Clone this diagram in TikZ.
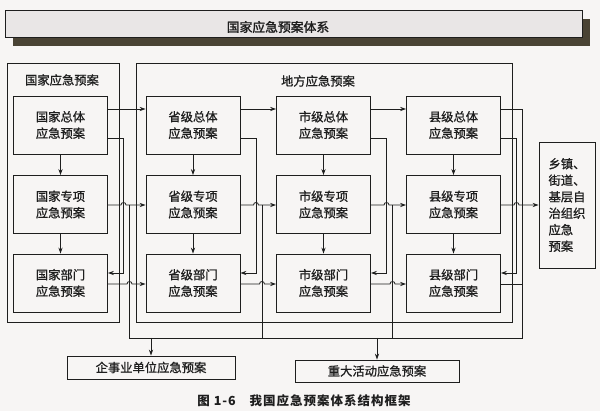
\documentclass[tikz,border=0pt]{standalone}
\usepackage{fontspec}
\setmainfont{Noto Sans CJK SC}[FakeBold=0.9]
\newfontfamily\bannerfont{Noto Sans CJK SC}[FakeBold=1.6]
\newfontfamily\capfont{Noto Sans CJK SC}[LetterSpace=8]
\usetikzlibrary{arrows.meta}
\definecolor{paper}{HTML}{F7F5F4}
\definecolor{bannerc}{HTML}{E9E6E6}
\definecolor{shadowc}{HTML}{4A4334}
\definecolor{inkc}{HTML}{1E1E1E}
\tikzset{
  ln/.style={draw=inkc, line width=0.8pt},
  arr/.style={ln, -{Stealth[length=6pt,width=4.2pt]}},
  box/.style={draw=inkc, line width=0.85pt, minimum width=94pt, minimum height=58pt,
    align=center, inner sep=0pt, font=\fontsize{12.3}{16.5}\selectfont, text=inkc},
  wide/.style={draw=inkc, line width=0.85pt, inner sep=0pt, font=\fontsize{12.3}{16}\selectfont, text=inkc},
  frame/.style={draw=inkc, line width=0.85pt, inner sep=0pt, anchor=north west},
  lbl/.style={font=\fontsize{12.3}{16}\selectfont, text=inkc, inner sep=0pt},
}
\begin{document}
\begin{tikzpicture}[x=1pt,y=-1pt]
\useasboundingbox[fill=paper] (0,0) rectangle (600,411);

% banner
\fill[shadowc] (13,19) rectangle (590,46);
\node[frame, fill=bannerc, minimum width=577pt, minimum height=27pt] (banner) at (5,10) {};
\node[lbl, font=\bannerfont\fontsize{12.8}{15}\selectfont] (bannertxt) at (278,27) {国家应急预案体系};

% containers
\node[frame, minimum width=112pt, minimum height=259pt] (gjframe) at (7,63) {};
\node[lbl] (gjlbl) at (62,80) {国家应急预案};
\node[frame, minimum width=376pt, minimum height=259pt] (dfframe) at (136,63) {};
\node[lbl] (dflbl) at (318,81) {地方应急预案};

% column boxes
\node[box] (gz) at (60.5,125) {国家总体\\应急预案};
\node[box] (gx) at (60.5,204.5) {国家专项\\应急预案};
\node[box] (gb) at (60.5,283) {国家部门\\应急预案};
\node[box] (sz) at (193,125) {省级总体\\应急预案};
\node[box] (sx) at (193,204.5) {省级专项\\应急预案};
\node[box] (sb) at (193,283) {省级部门\\应急预案};
\node[box] (cz) at (323.5,125) {市级总体\\应急预案};
\node[box] (cx) at (323.5,204.5) {市级专项\\应急预案};
\node[box] (cb) at (323.5,283) {市级部门\\应急预案};
\node[box] (xz) at (453.5,125) {县级总体\\应急预案};
\node[box] (xx) at (453.5,204.5) {县级专项\\应急预案};
\node[box] (xb) at (453.5,283) {县级部门\\应急预案};

\node[box, minimum width=56pt, minimum height=126pt, align=left] (xt) at (567,205)
  {乡镇、\\街道、\\基层自\\治组织\\应急\\预案};

\node[wide, minimum width=168pt, minimum height=23pt] (qy) at (151,367.5) {企事业单位应急预案};
\node[wide, minimum width=164pt, minimum height=22pt] (zd) at (377,371) {重大活动应急预案};

\node[lbl, font=\capfont\bfseries\fontsize{12.5}{15}\selectfont] (cap) at (304,401)
  {图 1-6\hspace{1.1em}我国应急预案体系结构框架};

% vertical arrows inside columns
\draw[arr] (gz) -- (gx);
\draw[arr] (gx) -- (gb);
\draw[arr] (sz) -- (sx);
\draw[arr] (sx) -- (sb);
\draw[arr] (cz) -- (cx);
\draw[arr] (cx) -- (cb);
\draw[arr] (xz) -- (xx);
\draw[arr] (xx) -- (xb);

% upper lines of general plans
\draw[arr] (gz.east |- 0,109) -- (sz.west |- 0,109);
\draw[arr] (sz.east |- 0,109) -- (cz.west |- 0,109);
\draw[arr] (cz.east |- 0,109) -- (xz.west |- 0,109);
\draw[ln] (xz.east |- 0,109) -- (522.5,109) -- (522.5,338);

% lower lines of general plans to department plans
\draw[arr] (gz.east |- 0,138) -- (123.5,138) -- (123.5,273) -- (gb.east |- 0,273);
\draw[arr] (sz.east |- 0,138) -- (256,138) -- (256,273) -- (sb.east |- 0,273);
\draw[arr] (cz.east |- 0,138) -- (386.5,138) -- (386.5,273) -- (cb.east |- 0,273);
\draw[arr] (xz.east |- 0,138) -- (516.5,138) -- (516.5,273) -- (xb.east |- 0,273);

% special plans
\draw[arr] (gx.east |- 0,205) -- (121,205) .. controls (121,201.7) and (126,201.7) .. (126,205) -- (sx.west |- 0,205);
\draw[arr] (sx.east |- 0,205) -- (253.5,205) .. controls (253.5,201.7) and (258.5,201.7) .. (258.5,205) -- (cx.west |- 0,205);
\draw[arr] (cx.east |- 0,205) -- (384,205) .. controls (384,201.7) and (389,201.7) .. (389,205) -- (xx.west |- 0,205);
\draw[arr] (xx.east |- 0,205) -- (514,205) .. controls (514,201.7) and (519,201.7) .. (519,205) -- (xt.west |- 0,205);

% branches down from special plans and bus
\draw[ln] (129.5,205) -- (129.5,338) -- (522.5,338);
\draw[ln] (262,205) -- (262,338);
\draw[ln] (392.5,205) -- (392.5,338);

% department plans
\draw[arr] (gb.east |- 0,284) -- (127,284) .. controls (127,280.7) and (132,280.7) .. (132,284) -- (sb.west |- 0,284);
\draw[arr] (sb.east |- 0,284) -- (259.5,284) .. controls (259.5,280.7) and (264.5,280.7) .. (264.5,284) -- (cb.west |- 0,284);
\draw[arr] (cb.east |- 0,284) -- (390,284) .. controls (390,280.7) and (395,280.7) .. (395,284) -- (xb.west |- 0,284);
\draw[ln] (xb.east |- 0,284) -- (522.5,284);

% down to bottom boxes
\draw[arr] (qy.north |- 0,338) -- (qy.north);
\draw[arr] (zd.north |- 0,338) -- (zd.north);
\end{tikzpicture}
\end{document}
